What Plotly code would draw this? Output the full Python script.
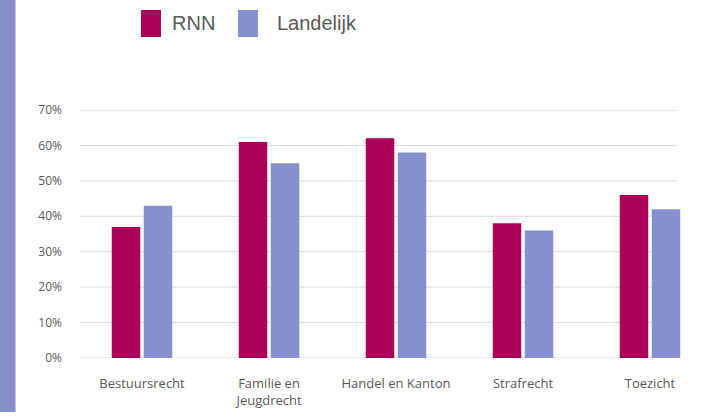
import plotly.graph_objects as go

categories = ["Bestuursrecht", "Familie en<br>Jeugdrecht", "Handel en Kanton", "Strafrecht", "Toezicht"]
series_names = ["RNN", "Landelijk"]
rnn_values = [0.37, 0.61, 0.62, 0.38, 0.46]
landelijk_values = [0.43, 0.55, 0.58, 0.36, 0.42]
y_ticks = [0, 0.1, 0.2, 0.3, 0.4, 0.5, 0.6, 0.7]

colors = ["#AA0058", "#8690CF"]
strip_color = "#8890CC"
grid_color = "#D9D9D9"

W, H = 706, 417
ML, MR, MT, MB = 78, 0, 110, 59
PW, PH = W - ML - MR, H - MT - MB


def px(x):
    return (x - ML) / PW


def py(y):
    return (H - MB - y) / PH


fig = go.Figure()
for name, vals, col in zip(series_names, [rnn_values, landelijk_values], colors):
    fig.add_trace(go.Bar(x=categories, y=vals, name=name, marker=dict(color=col, line=dict(width=0)),
                         showlegend=False))

shapes = [
    dict(type="rect", xref="paper", yref="paper", x0=px(0), x1=px(15.5), y0=py(412), y1=py(0),
         fillcolor=strip_color, line=dict(width=0), layer="above"),
]
# horizontal gridlines (ending where the reference's grid ends)
for t in y_ticks:
    shapes.append(dict(type="line", xref="paper", yref="y", x0=px(80), x1=px(677), y0=t, y1=t,
                       line=dict(color=grid_color, width=1), layer="below"))

annotations = []
legend_sq_x = [141, 238]
legend_txt_x = [170, 275]
for name, col, sx, tx in zip(series_names, colors, legend_sq_x, legend_txt_x):
    shapes.append(dict(type="rect", xref="paper", yref="paper", x0=px(sx), x1=px(sx + 20),
                       y0=py(37), y1=py(10), fillcolor=col, line=dict(width=0)))
    annotations.append(dict(text=name, xref="paper", yref="paper", x=px(tx), y=py(23.5),
                            xanchor="left", yanchor="middle", showarrow=False,
                            font=dict(family="Liberation Sans, Arial", size=20, color="#595959")))

fig.update_layout(
    width=W, height=H,
    margin=dict(l=ML, r=MR, t=MT, b=MB),
    paper_bgcolor="white", plot_bgcolor="white",
    barmode="group", bargap=0.496, bargroupgap=0.11,
    shapes=shapes, annotations=annotations,
    xaxis=dict(type="category", range=[-0.504, 4.441], showgrid=False, showline=False,
               ticks="", ticklabelstandoff=16,
               tickfont=dict(family="Open Sans", size=13, color="#595959")),
    yaxis=dict(range=[0, 0.7], tickvals=y_ticks, tickformat=".0%", showgrid=False,
               zeroline=False, showline=False, ticks="", ticklabelstandoff=15,
               tickfont=dict(family="Open Sans", size=12, color="#595959")),
)

fig.write_html("out.html", config={"displayModeBar": False},
               post_script="document.body.style.margin='0';document.body.style.overflow='hidden';")
